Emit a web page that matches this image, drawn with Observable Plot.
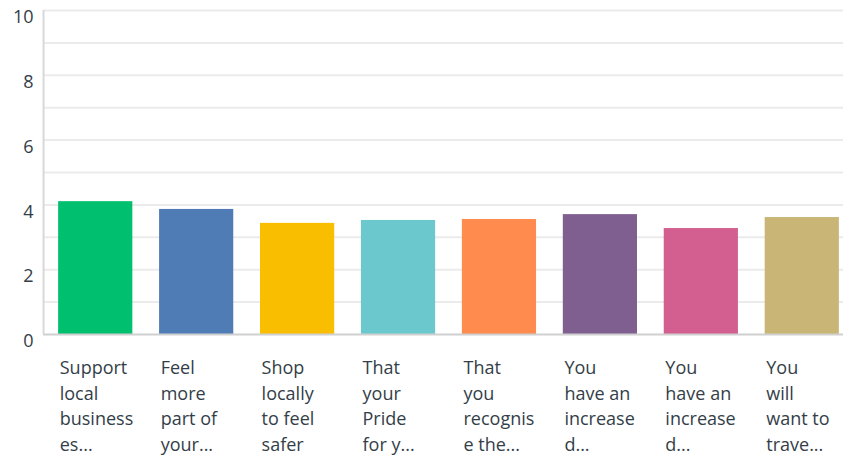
<!DOCTYPE html>
<html>
<head>
<meta charset="utf-8">
<script src="https://cdn.jsdelivr.net/npm/d3@7"></script>
<script src="https://cdn.jsdelivr.net/npm/@observablehq/plot@0.6"></script>
<style>
  html, body { margin: 0; padding: 0; background: #fff; }
  #chart svg { display: block; }
</style>
</head>
<body>
<div id="chart"></div>
<script>
const categories = [
  "Support\nlocal\nbusiness\nes...",
  "Feel\nmore\npart of\nyour...",
  "Shop\nlocally\nto feel\nsafer",
  "That\nyour\nPride\nfor y...",
  "That\nyou\nrecognis\ne the...",
  "You\nhave an\nincrease\nd...",
  "You\nhave an\nincrease\nd...",
  "You\nwill\nwant to\ntrave..."
];
const keys = categories.map((c, i) => i);
const values = [4.10, 3.86, 3.43, 3.52, 3.55, 3.70, 3.27, 3.61];
const colors = ["#00BF6F", "#507CB6", "#F9BE00", "#6BC8CD", "#FF8B4F", "#7F5F90", "#D25F90", "#C9B677"];
const yTicks = [0, 2, 4, 6, 8, 10];
const gridTicks = [1, 2, 3, 4, 5, 6, 7, 8, 9, 10];

const data = keys.map(i => ({key: i, label: categories[i], value: values[i], color: colors[i]}));

const font = "'Open Sans', 'Noto Sans', sans-serif";
const textColor = "#333E48";

const chart = Plot.plot({
  width: 843,
  height: 458,
  marginLeft: 43,
  marginRight: 0,
  marginTop: 10,
  marginBottom: 124,
  style: {fontFamily: font, background: "#fff"},
  x: {domain: keys, range: [43, 854], paddingInner: 0.265, paddingOuter: 0.15, round: false, axis: null},
  y: {domain: [0, 10], axis: null},
  marks: [
    Plot.ruleY(gridTicks, {stroke: "#EBEBEB", strokeWidth: 2}),
    Plot.barY(data, {x: "key", y: "value", fill: "color"}),
    Plot.ruleY([0], {stroke: "#D0D0D0", strokeWidth: 2}),
    Plot.ruleX([keys[0]], {x: d => d, y1: 0, y2: 10, dx: -52.2, stroke: "#D8D8D8", strokeWidth: 2}),
    Plot.text(yTicks, {
      frameAnchor: "left", y: d => d, text: d => String(d),
      textAnchor: "end", dx: -10, dy: 7,
      fontSize: 18, fill: textColor, fontFamily: font
    }),
    Plot.text(data, {
      x: "key", y: () => 0, text: "label",
      textAnchor: "start", lineAnchor: "top",
      dx: -36, dy: 21, lineHeight: 1.43,
      fontSize: 18, fill: textColor, fontFamily: font
    })
  ]
});
document.getElementById("chart").appendChild(chart);
</script>
</body>
</html>
